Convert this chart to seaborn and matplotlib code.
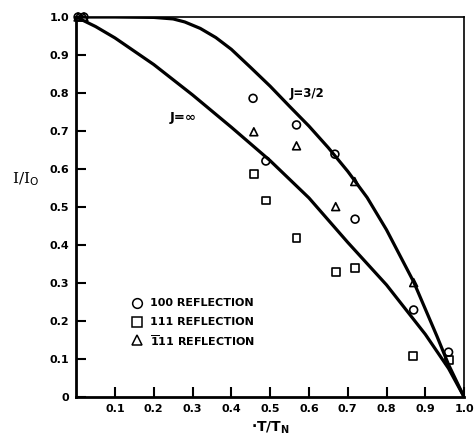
import matplotlib
matplotlib.use("Agg")
import matplotlib.pyplot as plt
import seaborn as sns
import pandas as pd

# Theoretical curves
j_inf_x = [0, 0.05, 0.10, 0.20, 0.30, 0.40, 0.50, 0.60, 0.70, 0.80, 0.90, 0.96, 1.0]
j_inf_y = [1.0, 0.975, 0.945, 0.875, 0.795, 0.71, 0.622, 0.524, 0.407, 0.295, 0.165, 0.075, 0.0]

j32_x = [0, 0.10, 0.20, 0.25, 0.28, 0.32, 0.36, 0.40, 0.45, 0.50, 0.55, 0.60, 0.65, 0.70,
         0.75, 0.80, 0.87, 0.93, 0.96, 1.0]
j32_y = [1.0, 1.0, 0.999, 0.995, 0.987, 0.970, 0.946, 0.915, 0.867, 0.818, 0.765, 0.713, 0.656,
         0.594, 0.525, 0.440, 0.303, 0.160, 0.085, 0.0]

# Measured reflections
r100_x = [0.005, 0.02, 0.456, 0.489, 0.568, 0.667, 0.719, 0.870, 0.960]
r100_y = [1.0, 1.0, 0.786, 0.621, 0.716, 0.639, 0.468, 0.229, 0.118]

r111_x = [0.458, 0.489, 0.568, 0.669, 0.718, 0.869, 0.960]
r111_y = [0.587, 0.517, 0.418, 0.330, 0.339, 0.108, 0.097]

rb11_x = [0.005, 0.02, 0.458, 0.568, 0.669, 0.718, 0.870]
rb11_y = [1.0, 1.0, 0.698, 0.661, 0.501, 0.567, 0.301]

x_ticks = [0.1, 0.2, 0.3, 0.4, 0.5, 0.6, 0.7, 0.8, 0.9, 1.0]
x_tick_labels = ["0.1", "0.2", "0.3", "0.4", "0.5", "0.6", "0.7", "0.8", "0.9", "1.0"]
y_ticks = [0, 0.1, 0.2, 0.3, 0.4, 0.5, 0.6, 0.7, 0.8, 0.9, 1.0]
y_tick_labels = ["0", "0.1", "0.2", "0.3", "0.4", "0.5", "0.6", "0.7", "0.8", "0.9", "1.0"]

legend_labels = ["100 REFLECTION", "111 REFLECTION", r"$\mathbf{\overline{1}}$11 REFLECTION"]

sns.set_style("ticks")
plt.rcParams['font.family'] = ['DejaVu Sans']
plt.rcParams['mathtext.fontset'] = 'dejavusans'
plt.rcParams['text.color'] = 'black'
plt.rcParams['axes.labelcolor'] = 'black'

fig = plt.figure(figsize=(4.76, 4.41), dpi=100)
ax = fig.add_axes([0.160, 0.0998, 0.815, 0.8616])

curves = pd.concat([
    pd.DataFrame({"x": j_inf_x, "y": j_inf_y, "curve": "inf"}),
    pd.DataFrame({"x": j32_x, "y": j32_y, "curve": "3/2"}),
])
sns.lineplot(data=curves, x="x", y="y", units="curve", estimator=None, sort=False,
             color="black", linewidth=2.3, ax=ax, legend=False)

pts = pd.concat([
    pd.DataFrame({"x": r100_x, "y": r100_y, "refl": "100"}),
    pd.DataFrame({"x": r111_x, "y": r111_y, "refl": "111"}),
    pd.DataFrame({"x": rb11_x, "y": rb11_y, "refl": "b11"}),
])
markers = {"100": "o", "111": "s", "b11": "^"}
sns.scatterplot(data=pts, x="x", y="y", style="refl", markers=markers,
                facecolors="none", edgecolor="black", color="black", linewidth=1.2,
                s=32, ax=ax, legend=False, clip_on=False, zorder=5)
for coll in ax.collections:
    coll.set_facecolor("none")
    coll.set_edgecolor("black")

ax.set_xlim(0, 1.0)
ax.set_ylim(0, 1.0)
ax.set_xticks(x_ticks)
ax.set_xticklabels(x_tick_labels, fontsize=8, fontweight="bold")
ax.set_yticks(y_ticks)
ax.set_yticklabels(y_tick_labels, fontsize=8, fontweight="bold")
ax.tick_params(direction="in", length=7, width=1.5, pad=5, colors="black")

for side in ["left", "bottom"]:
    ax.spines[side].set_linewidth(2.0)
    ax.spines[side].set_color("black")
for side in ["top", "right"]:
    ax.spines[side].set_visible(True)
    ax.spines[side].set_linewidth(1.2)
    ax.spines[side].set_color("black")

ax.set_xlabel("·T/T$_\\mathbf{N}$", fontsize=10, fontweight="bold", labelpad=4)
ax.set_ylabel("I/I$_\\mathrm{O}$", fontsize=11, rotation=0, family="DejaVu Serif")
ax.yaxis.set_label_coords(-0.13, 0.55)

ax.text(0.55, 0.80, "J=3/2", fontsize=8.5, fontweight="bold", va="center", ha="left")
ax.text(0.242, 0.735, "J=∞", fontsize=9.5, fontweight="bold", va="center", ha="left")

# Legend
leg_y = [0.247, 0.197, 0.149]
leg_m = ["o", "s", "^"]
for yy, mm, lab in zip(leg_y, leg_m, legend_labels):
    ax.plot([0.156], [yy], marker=mm, markersize=7, markerfacecolor="none",
            markeredgecolor="black", markeredgewidth=1.1, linestyle="none")
    ax.text(0.19, yy, lab, fontsize=8, fontweight="bold", va="center", ha="left")

fig.savefig("out.png", dpi=100)
